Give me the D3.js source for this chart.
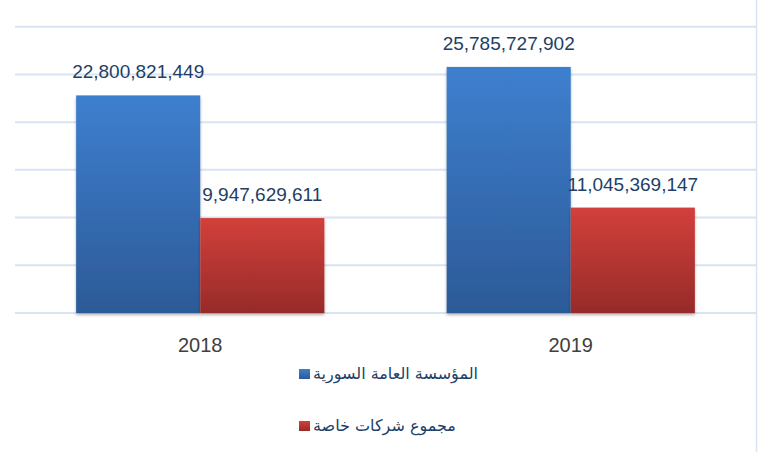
<!DOCTYPE html>
<html>
<head>
<meta charset="utf-8">
<script src="https://cdn.jsdelivr.net/npm/d3@7"></script>
<style>
  body { margin: 0; background: #fff; }
  svg { display: block; }
</style>
</head>
<body>
<script>
var width = 764, height = 452;

// data
var years = ["2018", "2019"];
var seriesNames = ["المؤسسة العامة السورية", "مجموع شركات خاصة"];
var publicValues = [22800821449, 25785727902];
var privateValues = [9947629611, 11045369147];
var yTicks = [0, 5e9, 10e9, 15e9, 20e9, 25e9, 30e9];

var colors = [["#3e7fcf", "#2c5a97"], ["#d2403b", "#972b29"]];
var gridColor = "#d9e3f2";

var svg = d3.select("body").append("svg")
    .attr("width", width)
    .attr("height", height);

var defs = svg.append("defs");
colors.forEach(function(c, i) {
  var g = defs.append("linearGradient")
      .attr("id", "grad" + i)
      .attr("x1", 0).attr("y1", 0).attr("x2", 0).attr("y2", 1);
  g.append("stop").attr("offset", "0%").attr("stop-color", c[0]);
  g.append("stop").attr("offset", "100%").attr("stop-color", c[1]);
});
var shadow = defs.append("filter").attr("id", "shadow")
    .attr("x", "-10%").attr("y", "-10%").attr("width", "120%").attr("height", "120%");
shadow.append("feDropShadow")
    .attr("dx", 0).attr("dy", 2).attr("stdDeviation", 1.5)
    .attr("flood-color", "#000").attr("flood-opacity", 0.3);

var x = d3.scaleBand().domain(years).range([15, 756]).paddingInner(0.33).paddingOuter(0.165);
var x1 = d3.scaleBand().domain([0, 1]).range([0, x.bandwidth()]);
var y = d3.scaleLinear().domain([0, 30e9]).range([313, 26.7]);

// right border
svg.append("line")
    .attr("x1", 756.5).attr("x2", 756.5)
    .attr("y1", 0).attr("y2", height)
    .attr("stroke", gridColor).attr("stroke-width", 1.5);

// gridlines
svg.selectAll(".grid").data(yTicks).enter().append("line")
    .attr("class", "grid")
    .attr("x1", 15).attr("x2", 756)
    .attr("y1", function(d) { return y(d); })
    .attr("y2", function(d) { return y(d); })
    .attr("stroke", gridColor).attr("stroke-width", 2);

var rows = [];
years.forEach(function(yr, i) {
  rows.push({year: yr, s: 0, v: publicValues[i]});
  rows.push({year: yr, s: 1, v: privateValues[i]});
});

svg.selectAll(".bar").data(rows).enter().append("rect")
    .attr("class", "bar")
    .attr("x", function(d) { return x(d.year) + x1(d.s); })
    .attr("y", function(d) { return y(d.v); })
    .attr("width", x1.bandwidth())
    .attr("height", function(d) { return y(0) - y(d.v); })
    .attr("fill", function(d) { return "url(#grad" + d.s + ")"; })
    .attr("filter", "url(#shadow)");

var fmt = d3.format(",");
svg.selectAll(".lbl").data(rows).enter().append("text")
    .attr("class", "lbl")
    .attr("x", function(d) { return x(d.year) + x1(d.s) + x1.bandwidth() / 2; })
    .attr("y", function(d) { return y(d.v) - 17; })
    .attr("text-anchor", "middle")
    .attr("font-family", "Liberation Sans, Arial, sans-serif")
    .attr("font-size", 19)
    .attr("fill", "#213f66")
    .text(function(d) { return fmt(d.v); });

// x axis labels
svg.selectAll(".xl").data(years).enter().append("text")
    .attr("class", "xl")
    .attr("x", function(d) { return x(d) + x.bandwidth() / 2; })
    .attr("y", 352)
    .attr("text-anchor", "middle")
    .attr("font-family", "Liberation Sans, Arial, sans-serif")
    .attr("font-size", 20)
    .attr("fill", "#404040")
    .text(function(d) { return d; });

// legend
var legend = svg.selectAll(".leg").data(seriesNames).enter().append("g")
    .attr("class", "leg")
    .attr("transform", function(d, i) { return "translate(299," + (369 + i * 52) + ")"; });
legend.append("rect")
    .attr("width", 11).attr("height", 10)
    .attr("fill", function(d, i) { return "url(#grad" + i + ")"; });
legend.append("text")
    .attr("x", 14)
    .attr("y", 10)
    .attr("direction", "rtl")
    .attr("text-anchor", "end")
    .attr("font-family", "DejaVu Sans, sans-serif")
    .attr("font-size", 16)
    .attr("fill", "#213f66")
    .text(function(d) { return d; });
</script>
</body>
</html>
